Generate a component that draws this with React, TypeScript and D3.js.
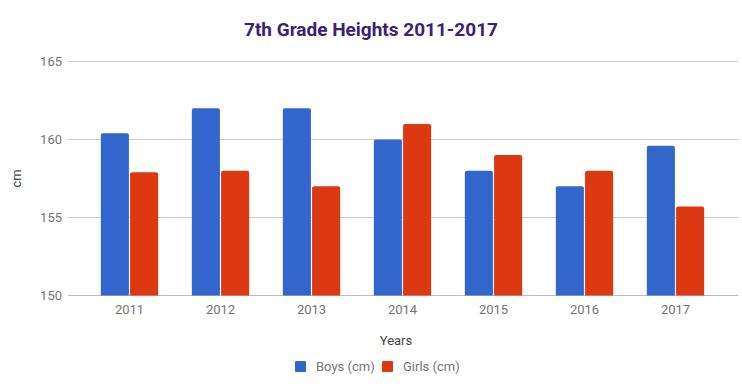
import React from 'react'
import * as d3 from 'd3'

// chart values
const years = ['2011', '2012', '2013', '2014', '2015', '2016', '2017']
const boys = [160.4, 162, 162, 160, 158, 157, 159.6]
const girls = [157.9, 158, 157, 161, 159, 158, 155.7]
const yTicks = [150, 155, 160, 165]
const seriesNames = ['Boys (cm)', 'Girls (cm)']
const colors = ['#3366cc', '#dc3912']

const W = 742
const H = 391
const area = { left: 68, right: 738, top: 61.5, bottom: 295.5 }

export default function App() {
  const y = d3.scaleLinear().domain([150, 165]).range([area.bottom, area.top])
  const x = d3.scaleBand().domain(years).range([84, 721]).paddingInner(0.37).paddingOuter(0.185)
  const inner = d3.scaleBand().domain(['b', 'g']).range([0, x.bandwidth()]).paddingInner(0.04)

  const bar = (xPos: number, v: number, w: number) => {
    const top = y(v)
    const h = area.bottom - top
    const r = 2
    return `M${xPos},${area.bottom}V${top + r}Q${xPos},${top} ${xPos + r},${top}H${xPos + w - r}Q${xPos + w},${top} ${xPos + w},${top + r}V${area.bottom}Z`
  }

  const font = 'Roboto, Arial, sans-serif'

  return (
    <svg width={W} height={H} style={{ position: 'absolute', left: 0, top: 0 }} fontFamily={font}>
      <rect width={W} height={H} fill="#fff" />
      <text x={371} y={36} textAnchor="middle" fontSize={19} fontWeight="bold" fill="#3d2077">
        7th Grade Heights 2011-2017
      </text>
      {yTicks.map((t) => (
        <g key={t}>
          <line x1={area.left} x2={area.right} y1={y(t)} y2={y(t)} stroke={t === 150 ? '#bdbdbd' : '#cccccc'} strokeWidth={1} />
          <text x={62} y={y(t) + 4.5} textAnchor="end" fontSize={13} fill="#757575">
            {t}
          </text>
        </g>
      ))}
      {years.map((yr, i) => {
        const x0 = x(yr) as number
        const bw = inner.bandwidth()
        return (
          <g key={yr}>
            <path d={bar(x0 + (inner('b') as number), boys[i], bw)} fill={colors[0]} />
            <path d={bar(x0 + (inner('g') as number), girls[i], bw)} fill={colors[1]} />
            <text x={x0 + x.bandwidth() / 2} y={314} textAnchor="middle" fontSize={13} fill="#757575">
              {yr}
            </text>
          </g>
        )
      })}
      <text transform={`translate(21,${(area.top + area.bottom) / 2}) rotate(-90)`} textAnchor="middle" fontSize={13} fill="#444">
        cm
      </text>
      <text x={396} y={345} textAnchor="middle" fontSize={13} fill="#444">
        Years
      </text>
      <g>
        <rect x={295} y={361} width={11} height={11} fill={colors[0]} rx={1} />
        <text x={316} y={371} fontSize={13} fill="#757575">{seriesNames[0]}</text>
        <rect x={382} y={361} width={11} height={11} fill={colors[1]} rx={1} />
        <text x={403} y={371} fontSize={13} fill="#757575">{seriesNames[1]}</text>
      </g>
    </svg>
  )
}
